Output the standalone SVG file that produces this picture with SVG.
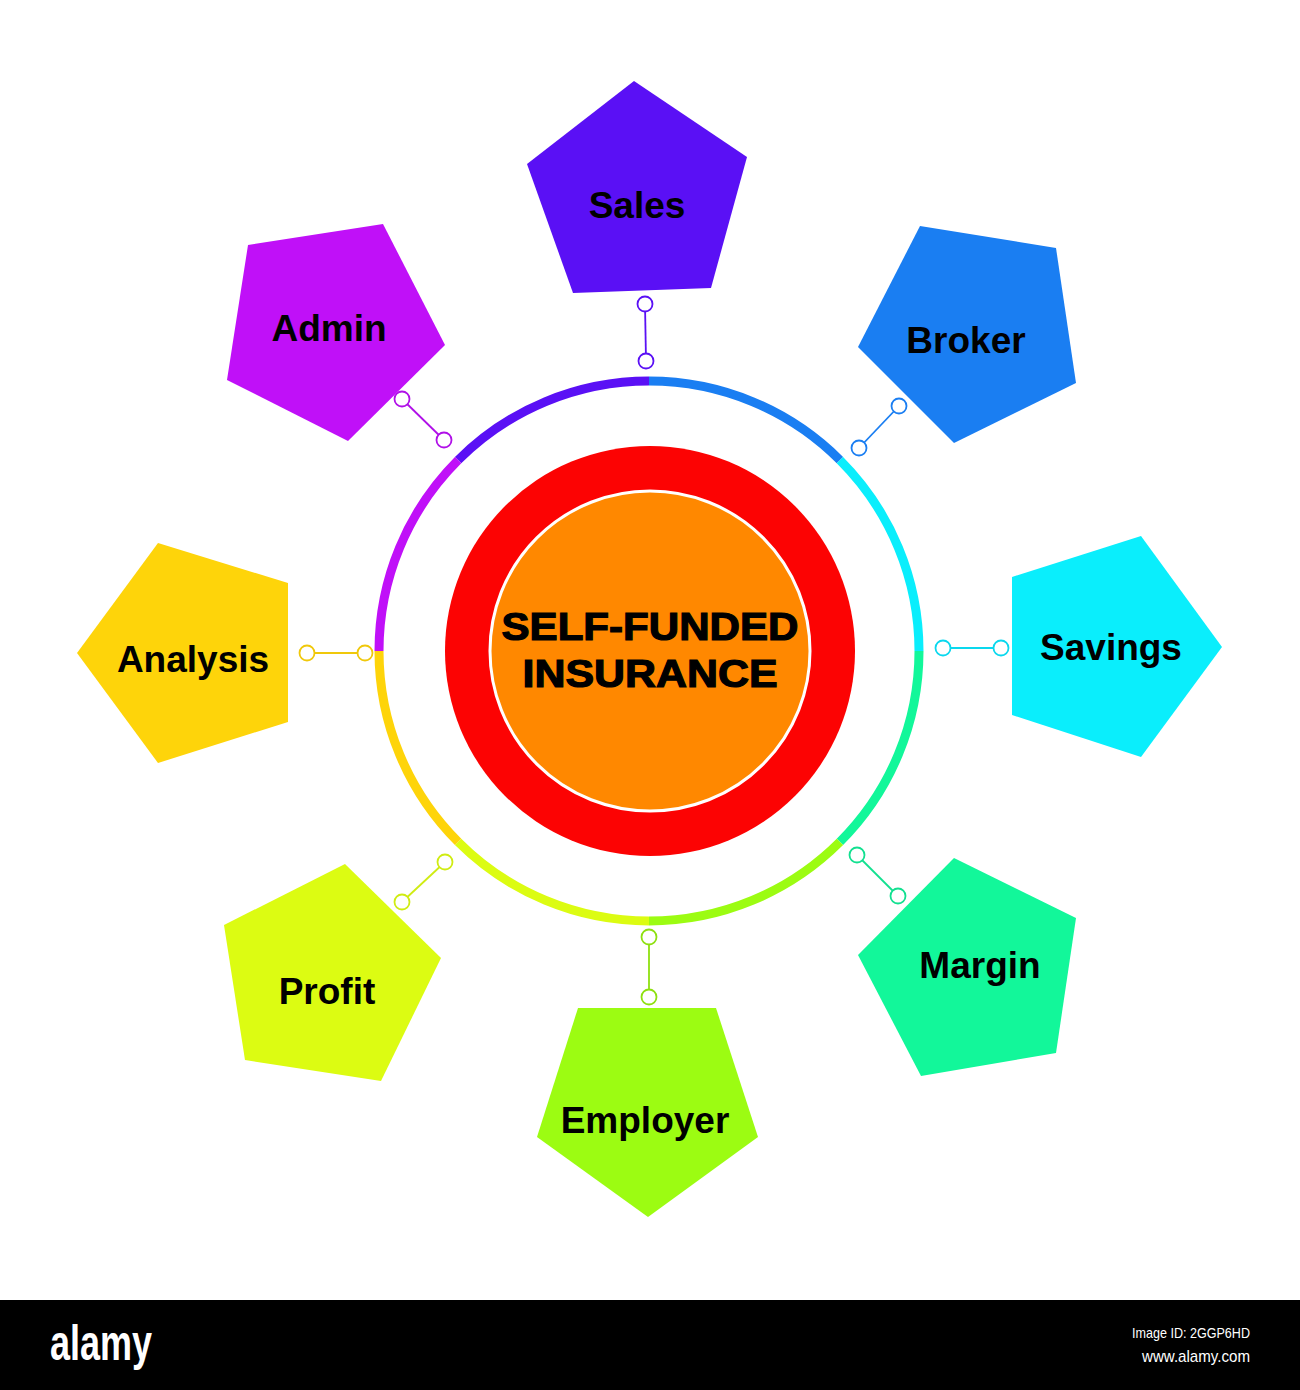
<svg xmlns="http://www.w3.org/2000/svg" width="1300" height="1390" viewBox="0 0 1300 1390">
<style>
.lbl{font-family:"Liberation Sans",Arial,sans-serif;font-weight:bold;font-size:37px;fill:#000;text-anchor:middle}
.ctr{font-family:"Liberation Sans",Arial,sans-serif;font-weight:bold;font-size:38px;fill:#000;stroke:#000;stroke-width:1.2;text-anchor:middle}
.seg{fill:none;stroke-width:9;stroke-linecap:butt}
.con line{stroke-width:1.8}
.con circle{fill:#fff;stroke-width:1.8}
</style>
<rect width="1300" height="1390" fill="#fff"/>
<g id="ring">
<path class="seg" stroke="#5a10f5" d="M458.1,460.1 A270,270 0 0 1 649,381"/>
<path class="seg" stroke="#1a7ef2" d="M649,381 A270,270 0 0 1 839.9,460.1"/>
<path class="seg" stroke="#0aeefc" d="M839.9,460.1 A270,270 0 0 1 919,651"/>
<path class="seg" stroke="#12f79a" d="M919,651 A270,270 0 0 1 839.9,841.9"/>
<path class="seg" stroke="#9cfc12" d="M839.9,841.9 A270,270 0 0 1 649,921"/>
<path class="seg" stroke="#dcfc12" d="M649,921 A270,270 0 0 1 458.1,841.9"/>
<path class="seg" stroke="#fed40a" d="M458.1,841.9 A270,270 0 0 1 379,651"/>
<path class="seg" stroke="#c010f8" d="M379,651 A270,270 0 0 1 458.1,460.1"/>
</g>
<g id="center">
<circle cx="650" cy="651" r="205" fill="#fc0303"/>
<circle cx="650" cy="651" r="160" fill="#ff8800" stroke="#fff" stroke-width="3"/>
<text class="ctr" x="650" y="640" textLength="297" lengthAdjust="spacingAndGlyphs">SELF-FUNDED</text>
<text class="ctr" x="650" y="687" textLength="255" lengthAdjust="spacingAndGlyphs">INSURANCE</text>
</g>
<g id="connectors" class="con">
<g stroke="#5a10f5"><line x1="645" y1="304" x2="646" y2="361"/><circle cx="645" cy="304" r="7.5"/><circle cx="646" cy="361" r="7.5"/></g>
<g stroke="#1a7ef2"><line x1="899" y1="406" x2="859" y2="448"/><circle cx="899" cy="406" r="7.5"/><circle cx="859" cy="448" r="7.5"/></g>
<g stroke="#0ad8ee"><line x1="1001" y1="648" x2="943" y2="648"/><circle cx="1001" cy="648" r="7.5"/><circle cx="943" cy="648" r="7.5"/></g>
<g stroke="#12e090"><line x1="857" y1="855" x2="898" y2="896"/><circle cx="857" cy="855" r="7.5"/><circle cx="898" cy="896" r="7.5"/></g>
<g stroke="#8ee010"><line x1="649" y1="937" x2="649" y2="997"/><circle cx="649" cy="937" r="7.5"/><circle cx="649" cy="997" r="7.5"/></g>
<g stroke="#d0ec12"><line x1="445" y1="862" x2="402" y2="902"/><circle cx="445" cy="862" r="7.5"/><circle cx="402" cy="902" r="7.5"/></g>
<g stroke="#f0c80a"><line x1="307" y1="653" x2="365" y2="653"/><circle cx="307" cy="653" r="7.5"/><circle cx="365" cy="653" r="7.5"/></g>
<g stroke="#b010e8"><line x1="402" y1="399" x2="444" y2="440"/><circle cx="402" cy="399" r="7.5"/><circle cx="444" cy="440" r="7.5"/></g>
</g>
<g id="sales"><polygon points="634,81 747,157 711,288 573,293 527,164" fill="#5a10f5"/><text class="lbl" x="637" y="218">Sales</text></g>
<g id="broker"><polygon points="920,226 1056,248 1076,383 954,443 858,347" fill="#1a7ef2"/><text class="lbl" x="966" y="353">Broker</text></g>
<g id="savings"><polygon points="1141,536 1222,647 1141,757 1012,715 1012,577" fill="#0aeefc"/><text class="lbl" x="1111" y="660">Savings</text></g>
<g id="margin"><polygon points="954,858 1076,918 1056,1053 921,1076 858,955" fill="#12f79a"/><text class="lbl" x="980" y="978">Margin</text></g>
<g id="employer"><polygon points="578,1008 716,1008 758,1137 648,1217 537,1137" fill="#9cfc12"/><text class="lbl" x="645" y="1133">Employer</text></g>
<g id="profit"><polygon points="345,864 441,958 381,1081 245,1060 224,925" fill="#dcfc12"/><text class="lbl" x="327" y="1004">Profit</text></g>
<g id="analysis"><polygon points="158,543 288,583 288,722 158,763 77,653" fill="#fed40a"/><text class="lbl" x="193" y="672">Analysis</text></g>
<g id="admin"><polygon points="248,245 383,224 445,345 348,441 227,380" fill="#c010f8"/><text class="lbl" x="329" y="341">Admin</text></g>
<g id="footer">
<rect x="0" y="1300" width="1300" height="90" fill="#000"/>
<text x="50" y="1360" fill="#fff" font-family="'Liberation Sans',Arial,sans-serif" font-weight="bold" font-size="50" textLength="102" lengthAdjust="spacingAndGlyphs">alamy</text>
<text x="1250" y="1338" fill="#fff" font-family="'Liberation Sans',Arial,sans-serif" font-size="15" text-anchor="end" textLength="118" lengthAdjust="spacingAndGlyphs">Image ID: 2GGP6HD</text>
<text x="1250" y="1362" fill="#fff" font-family="'Liberation Sans',Arial,sans-serif" font-size="17" text-anchor="end" textLength="108" lengthAdjust="spacingAndGlyphs">www.alamy.com</text>
</g>
</svg>
